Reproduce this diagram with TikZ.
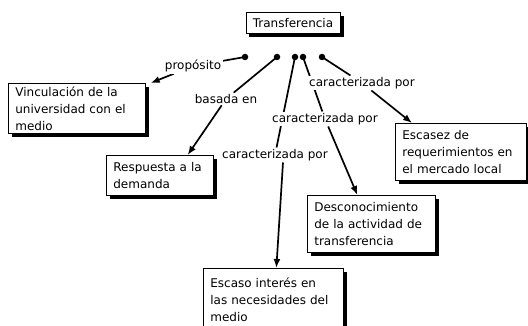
\documentclass[tikz,border=0pt]{standalone}
\usepackage{fontspec}
\setmainfont{DejaVu Sans}
\usetikzlibrary{arrows.meta,shadows,backgrounds}
\begin{document}
\begin{tikzpicture}[x=1pt,y=-1pt,
  every node/.style={font=\fontsize{12}{17}\selectfont},
  box/.style={draw,line width=0.7pt,fill=white,anchor=north west,align=left,
    inner xsep=7pt,inner ysep=3pt,
    drop shadow={shadow xshift=3.5pt,shadow yshift=-3.5pt,fill=black,opacity=1}},
  lbl/.style={fill=white,inner sep=1.5pt},
  conn/.style={line width=1.7pt},
  arr/.style={conn,-{Latex[length=9pt,width=7pt]}},
  dot/.style={circle,fill=black,inner sep=0pt,minimum size=6.5pt}]
\useasboundingbox (0,0) rectangle (528,326);
% boxes
\node[box,anchor=center,minimum width=94pt,minimum height=21pt,inner ysep=2pt] (T) at (293,23) {Transferencia};
\node[box,minimum width=137pt,minimum height=50pt,text width=123pt] (V) at (8,83) {Vinculación de la\\universidad con el\\medio};
\node[box,minimum width=107pt,minimum height=40pt,text width=93pt] (R) at (106,155) {Respuesta a la\\demanda};
\node[box,minimum width=131pt,minimum height=57pt,text width=117pt] (E) at (395,123) {Escasez de\\requerimientos en\\el mercado local};
\node[box,minimum width=128pt,minimum height=57pt,text width=114pt] (D) at (307,195) {Desconocimiento\\de la actividad de\\transferencia};
\node[box,minimum width=140pt,minimum height=62pt,text width=126pt] (S) at (203,268) {Escaso interés en\\las necesidades del\\medio};
% labels
\node[lbl] (lp) at (193,66) {propósito};
\node[lbl] (lb) at (226,99) {basada en};
\node[lbl] (l2) at (325,119) {caracterizada por};
\node[lbl] (l3) at (275,155) {caracterizada por};
\node[lbl] (l4) at (362,83) {caracterizada por};
% dots
\node[dot] (d1) at (245,57) {};
\node[dot] (d2) at (277,57) {};
\node[dot] (d3) at (295,57) {};
\node[dot] (d4) at (303,57) {};
\node[dot] (d5) at (322,57) {};
\begin{scope}[on background layer]
\fill[white] (0,0) rectangle (528,326);
\draw[conn] (d1.center) -- (lp);
\draw[arr] (lp) -- ([xshift=5pt]V.north east);
\draw[conn] (d2.center) -- (lb);
\draw[arr] (lb) -- ([xshift=-26pt]R.north east);
\draw[conn] (d3.center) -- (l3);
\draw[arr] ([xshift=8pt]l3.south) -- ([xshift=3pt]S.north);
\draw[conn] (d4.center) -- (l2);
\draw[arr] (l2) -- ([xshift=-14pt]D.north);
\draw[conn] (d5.center) -- (l4);
\draw[arr] (l4) -- ([xshift=17pt]E.north west);
\end{scope}
\end{tikzpicture}
\end{document}
